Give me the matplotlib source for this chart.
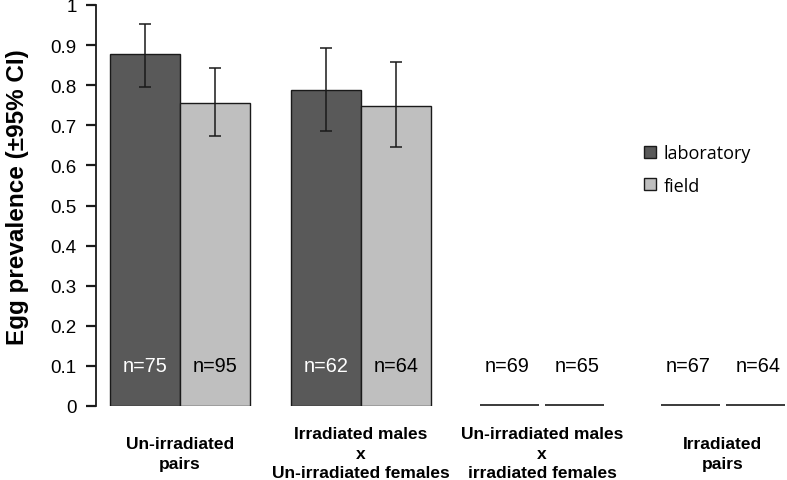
import numpy as np
import matplotlib
matplotlib.use('Agg')
import matplotlib.pyplot as plt
import matplotlib.transforms as mtransforms
from matplotlib.patches import Patch

plt.rcParams['font.family'] = ['Liberation Sans', 'DejaVu Sans']

# data
groups = ['Un-irradiated\npairs',
          'Irradiated males\nx\nUn-irradiated females',
          'Un-irradiated males\nx\nirradiated females',
          'Irradiated\npairs']
lab = [0.879, 0.788, 0.0, 0.0]
lab_lo = [0.795, 0.686, 0.0, 0.0]
lab_hi = [0.953, 0.894, 0.0, 0.0]
lab_n = [75, 62, 69, 67]
field = [0.756, 0.748, 0.0, 0.0]
field_lo = [0.674, 0.647, 0.0, 0.0]
field_hi = [0.843, 0.858, 0.0, 0.0]
field_n = [95, 64, 65, 64]

c_lab = '#595959'
c_field = '#bfbfbf'
edge = '#1a1a1a'

fig = plt.figure(figsize=(7.87, 4.81), dpi=100)
ax = fig.add_axes([96/787, 74/481, 691/787, 401/481])

x = np.arange(len(groups))
w = 0.387

series = [(-1, lab, lab_lo, lab_hi, lab_n, c_lab, 'laboratory'),
          (1, field, field_lo, field_hi, field_n, c_field, 'field')]

for side, vals, lo, hi, ns, col, name in series:
    vals = np.array(vals)
    pos = x + side * w / 2
    nz = vals > 0
    ax.bar(pos[nz], vals[nz], width=w, color=col, edgecolor=edge, linewidth=1.0)
    err = np.array([vals - np.array(lo), np.array(hi) - vals])
    ax.errorbar(pos[nz], vals[nz], yerr=err[:, nz], fmt='none', ecolor='#1a1a1a',
                elinewidth=1.1, capsize=4, capthick=1.1)
    # zero-valued groups drawn as a flat line
    zpos = x[~nz] + side * (w / 2 - 0.016)
    ax.hlines(np.zeros(len(zpos)) + 0.002, zpos - 0.163, zpos + 0.163,
              color='#3a3a3a', lw=1.4, clip_on=False)
    for p, v, n in zip(pos, vals, ns):
        tc = 'white' if (v > 0.15 and col == c_lab) else 'black'
        ax.text(p, 0.1, 'n=%d' % n, ha='center', va='center', fontsize=14.3, color=tc)

trans = mtransforms.blended_transform_factory(ax.transData, ax.transData)
for xi, g in zip(x, groups):
    ax.text(xi, -0.1175, g, ha='center', va='center', fontsize=12.5,
            fontweight='bold', transform=trans, clip_on=False, linespacing=1.4)

ax.set_xlim(-0.464, 3.354)
ax.set_ylim(0, 1.0)
ax.set_yticks(np.arange(0, 1.01, 0.1))
ax.set_yticklabels(['0', '0.1', '0.2', '0.3', '0.4', '0.5', '0.6', '0.7', '0.8', '0.9', '1'])
ax.tick_params(axis='y', labelsize=13.5, length=7, width=1.6, pad=7, color='#1a1a1a')
ax.set_xticks([])
for s in ['top', 'right', 'bottom']:
    ax.spines[s].set_visible(False)
ax.spines['left'].set_linewidth(1.3)
ax.spines['left'].set_color('#1a1a1a')
ax.set_ylabel('Egg prevalence (\u00b195% CI)', fontsize=17.5, fontweight='bold')
ax.yaxis.set_label_coords(-0.097, 0.524)

handles = [Patch(facecolor=c_lab, edgecolor=edge, label='laboratory'),
           Patch(facecolor=c_field, edgecolor=edge, label='field')]
fig.legend(handles=handles, loc='upper left', bbox_to_anchor=(0.798, 0.732),
           frameon=False, handlelength=0.65, handleheight=0.65, handletextpad=0.4,
           labelspacing=0.8, prop={'family': 'Open Sans', 'size': 13})

fig.savefig('out.png', dpi=100)
